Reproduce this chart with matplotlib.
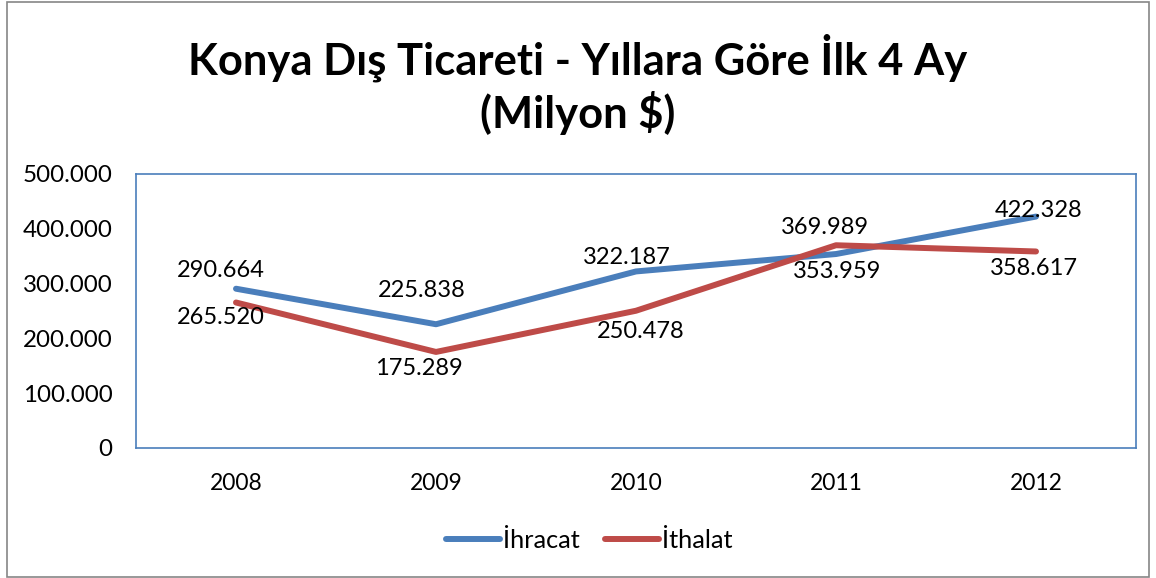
import matplotlib
matplotlib.use("Agg")
import matplotlib.pyplot as plt
from matplotlib.patches import Rectangle
from matplotlib.ticker import FuncFormatter

years = ["2008", "2009", "2010", "2011", "2012"]
ihracat = [290.664, 225.838, 322.187, 353.959, 422.328]
ithalat = [265.520, 175.289, 250.478, 369.989, 358.617]
ihracat_labels = ["290.664", "225.838", "322.187", "353.959", "422.328"]
ithalat_labels = ["265.520", "175.289", "250.478", "369.989", "358.617"]

plt.rcParams['font.family'] = ['Lato', 'DejaVu Sans']

W, H = 1156, 578
fig = plt.figure(figsize=(W / 100, H / 100), dpi=100)
ax = fig.add_axes([136 / W, 1 - 448 / H, 1000 / W, 274 / H])

blue = "#4A7EBB"
red = "#BE4B48"
x = list(range(len(years)))
ax.plot(x, ihracat, color=blue, lw=4.3, solid_capstyle="round", label="İhracat", zorder=3)
ax.plot(x, ithalat, color=red, lw=4.3, solid_capstyle="round", label="İthalat", zorder=3)

# label offsets in pixels (dx, dy)
ihr_off = [(-15, 18), (-14.5, 34), (-9.5, 14), (1, -17), (3, 6)]
ith_off = [(-15.5, -15), (-17, -16.5), (5, -21), (-11, 18), (-2.5, -17.5)]
for xi, v, lab, off in zip(x, ihracat, ihracat_labels, ihr_off):
    ax.annotate(lab, (xi, v), xytext=off, textcoords="offset pixels",
                ha="center", va="center", fontsize=17)
for xi, v, lab, off in zip(x, ithalat, ithalat_labels, ith_off):
    ax.annotate(lab, (xi, v), xytext=off, textcoords="offset pixels",
                ha="center", va="center", fontsize=17)

ax.set_xlim(-0.5, 4.5)
ax.set_ylim(0, 500)
ax.set_yticks([0, 100, 200, 300, 400, 500])
ax.yaxis.set_major_formatter(FuncFormatter(lambda v, _: "0" if v == 0 else f"{int(v)}.000"))
ax.set_xticks(x)
ax.set_xticklabels(years)
ax.tick_params(axis="y", length=0, labelsize=17.4, pad=17)
ax.tick_params(axis="x", length=0, labelsize=16.5, pad=18)
for s in ax.spines.values():
    s.set_color(blue)
    s.set_linewidth(1.2)

fig.text(0.5, 1 - 58 / H, "Konya Dış Ticareti - Yıllara Göre İlk 4 Ay",
         ha="center", va="center", fontsize=31.3, fontweight="bold")
fig.text(0.5, 1 - 113 / H, "(Milyon $)",
         ha="center", va="center", fontsize=31.3, fontweight="bold")

fig.legend(loc="center", bbox_to_anchor=(589 / W, 1 - 540 / H), ncol=2, frameon=False,
           fontsize=18.2, handlelength=2.15, handletextpad=0.1, columnspacing=1.0)

fig.patches.append(Rectangle((7 / W, 1 / H), 1 - 14 / W, 1 - 3 / H, transform=fig.transFigure,
                             fill=False, edgecolor="#868686", lw=1.2))

fig.savefig("out.png", dpi=100)
